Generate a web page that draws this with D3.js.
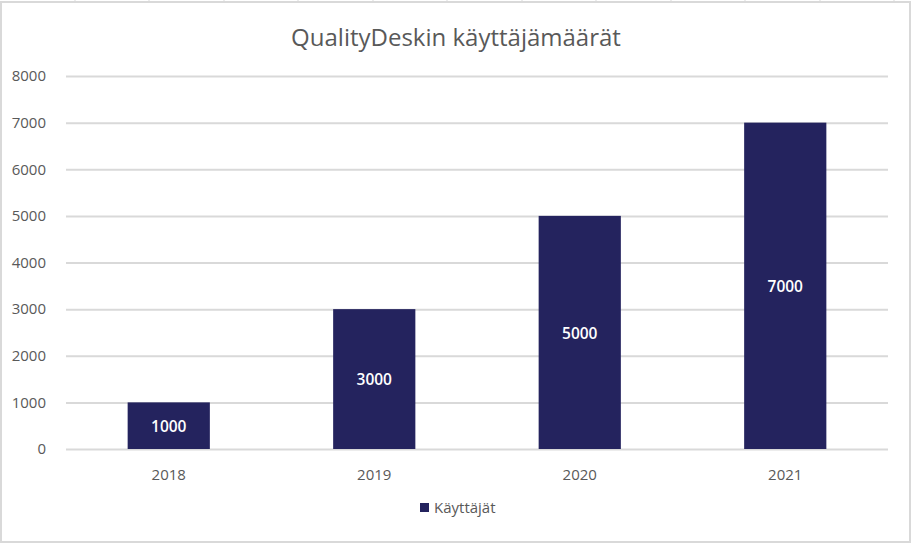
<!DOCTYPE html>
<html>
<head>
<meta charset="utf-8">
<script src="https://cdn.jsdelivr.net/npm/d3@7"></script>
<style>
  body { margin: 0; background: #fff; }
  svg { display: block; font-family: "Open Sans", "Liberation Sans", sans-serif; }
</style>
</head>
<body>
<svg id="chart" width="912" height="544"></svg>
<script>
const years = ['2018', '2019', '2020', '2021'];
const users = [1000, 3000, 5000, 7000];
const yTicks = [0, 1000, 2000, 3000, 4000, 5000, 6000, 7000, 8000];
const seriesName = 'Käyttäjät';
const title = 'QualityDeskin käyttäjämäärät';

const width = 912;
const height = 544;
const margin = { top: 76, right: 24, bottom: 95, left: 66 };
const barColor = '#24235e';
const textColor = '#595959';
const gridColor = '#d9d9d9';

const svg = d3.select('#chart');

// spreadsheet column lines peeking above the chart
const colLines = [75, 149, 224, 298, 373, 447, 522, 596, 671, 745, 820, 894];
svg.append('g').selectAll('line')
  .data(colLines)
  .enter()
  .append('line')
  .attr('x1', d => d).attr('x2', d => d)
  .attr('y1', 0).attr('y2', 2)
  .attr('stroke', gridColor);

// chart frame
svg.append('rect')
  .attr('x', 1)
  .attr('y', 2)
  .attr('width', width - 3)
  .attr('height', height - 4)
  .attr('fill', '#fff')
  .attr('stroke', gridColor)
  .attr('stroke-width', 2);

const x = d3.scaleBand()
  .domain(years)
  .range([margin.left, width - margin.right])
  .paddingInner(0.6)
  .paddingOuter(0.3);

const y = d3.scaleLinear()
  .domain([0, 8000])
  .range([height - margin.bottom, margin.top]);

// gridlines
svg.append('g')
  .attr('transform', `translate(${margin.left}, 0)`)
  .call(d3.axisLeft(y)
    .tickValues(yTicks)
    .tickSize(-(width - margin.left - margin.right))
    .tickFormat('')
  )
  .call(g => g.select('.domain').remove())
  .selectAll('line')
  .attr('stroke', gridColor)
  .attr('stroke-width', 2);

// y labels
svg.append('g')
  .attr('transform', `translate(${margin.left - 17}, 0)`)
  .call(d3.axisLeft(y).tickValues(yTicks).tickSize(0).tickFormat(d3.format('d')))
  .call(g => g.select('.domain').remove())
  .selectAll('text')
  .attr('fill', textColor)
  .style('font-size', '15px')
  .style('font-family', '"Open Sans", sans-serif');

// x labels
svg.append('g')
  .attr('transform', `translate(0, ${height - margin.bottom})`)
  .call(d3.axisBottom(x).tickSize(0).tickPadding(20))
  .call(g => g.select('.domain').remove())
  .selectAll('text')
  .attr('fill', textColor)
  .style('font-size', '15px')
  .style('font-family', '"Open Sans", sans-serif');

const rows = years.map((yr, i) => ({ year: yr, value: users[i] }));

svg.append('g')
  .selectAll('rect')
  .data(rows)
  .enter()
  .append('rect')
  .attr('x', d => x(d.year))
  .attr('y', d => y(d.value))
  .attr('width', x.bandwidth())
  .attr('height', d => y(0) - y(d.value))
  .attr('fill', barColor);

svg.append('g')
  .selectAll('text')
  .data(rows)
  .enter()
  .append('text')
  .attr('x', d => x(d.year) + x.bandwidth() / 2)
  .attr('y', d => (y(d.value) + y(0)) / 2)
  .attr('dy', '0.4em')
  .attr('text-anchor', 'middle')
  .attr('fill', '#fff')
  .style('font-size', '15.5px')
  .style('font-weight', 600)
  .text(d => d.value);

// title
svg.append('text')
  .attr('x', width / 2)
  .attr('y', 46)
  .attr('text-anchor', 'middle')
  .attr('fill', textColor)
  .style('font-size', '24px')
  .text(title);

// legend
const legend = svg.append('g').attr('transform', 'translate(420, 503)');
legend.append('rect')
  .attr('width', 9)
  .attr('height', 9)
  .attr('fill', barColor);
legend.append('text')
  .attr('x', 14)
  .attr('y', 10)
  .attr('fill', textColor)
  .style('font-size', '15px')
  .text(seriesName);
</script>
</body>
</html>
